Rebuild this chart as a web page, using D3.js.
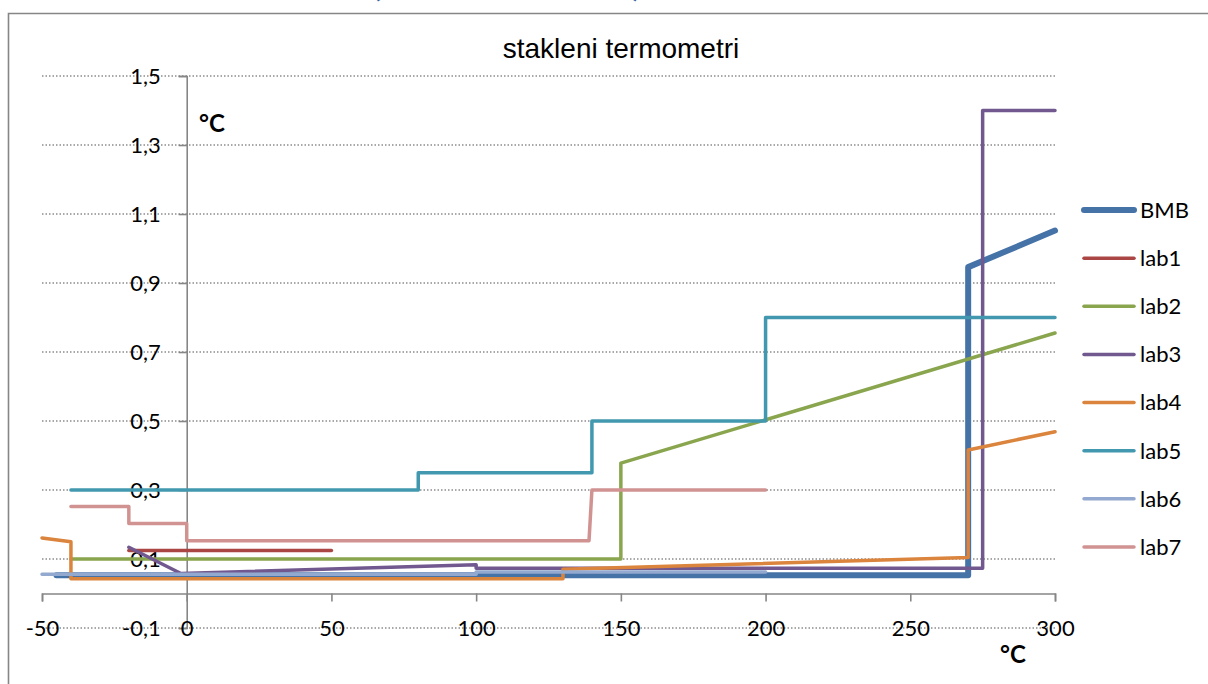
<!DOCTYPE html>
<html>
<head>
<meta charset="utf-8">
<script src="https://cdn.jsdelivr.net/npm/d3@7"></script>
<style>
  html, body { margin: 0; padding: 0; background: #fff; }
  svg { display: block; }
</style>
</head>
<body>
<svg id="chart" width="1208" height="684"></svg>
<script>
// ---- data ----
const chartTitle = "stakleni termometri";
const seriesNames = ["BMB", "lab1", "lab2", "lab3", "lab4", "lab5", "lab6", "lab7"];
const seriesColors = ["#4572A7", "#AA4643", "#89A54E", "#71588F", "#DB843D", "#4198AF", "#93A9CF", "#D19392"];

const BMB  = [[-45, 0.053], [270, 0.053], [270, 0.946], [300, 1.052]];
const lab1 = [[-20, 0.125], [50, 0.125]];
const lab2 = [[-40, 0.1], [150, 0.1], [150, 0.378], [300, 0.755]];
const lab3 = [[-20, 0.134], [-2, 0.058], [100, 0.083], [100, 0.073], [275, 0.073], [275, 1.4], [300, 1.4]];
const lab4 = [[-50, 0.161], [-40, 0.15], [-40, 0.043], [130, 0.043], [130, 0.07], [270, 0.104], [270, 0.416], [300, 0.469]];
const lab5 = [[-40, 0.3], [80, 0.3], [80, 0.35], [140, 0.35], [140, 0.5], [200, 0.5], [200, 0.8], [300, 0.8]];
const lab6 = [[-50, 0.0557], [100, 0.0557], [100, 0.062], [200, 0.062]];
const lab7 = [[-40, 0.252], [-20, 0.252], [-20, 0.203], [0, 0.203], [0, 0.153], [139, 0.153], [140, 0.3], [200, 0.3]];

const xTicks = [-50, 0, 50, 100, 150, 200, 250, 300];
const yTicks = [-0.1, 0.1, 0.3, 0.5, 0.7, 0.9, 1.1, 1.3, 1.5];
const unitLabel = "°C";

const seriesData = [BMB, lab1, lab2, lab3, lab4, lab5, lab6, lab7];

// ---- layout ----
const svg = d3.select("#chart");
const W = 1208, H = 684;
const plot = { left: 42, right: 1055, top: 76, bottom: 628 };
const x = d3.scaleLinear().domain([-50, 300]).range([plot.left, plot.right]);
const y = d3.scaleLinear().domain([-0.1, 1.5]).range([plot.bottom, plot.top]);
const fmt = v => d3.format(".1f")(v).replace(".", ",").replace("−", "-");
const labelFont = "Lato, 'Open Sans', sans-serif";

// outer frame (top + left visible)
svg.append("path")
  .attr("d", `M8.5,${H} L8.5,13.5 L${W},13.5`)
  .attr("fill", "none").attr("stroke", "#868686").attr("stroke-width", 1.6);

// cut-off heading above the frame (only the bottoms of its brackets show)
svg.append("text").attr("x", 372).attr("y", -4).text("(")
  .attr("font-family", labelFont).attr("font-weight", "bold").attr("font-size", 34).attr("fill", "#3B64A0");
svg.append("text").attr("x", 632).attr("y", -4).text(")")
  .attr("font-family", labelFont).attr("font-weight", "bold").attr("font-size", 34).attr("fill", "#3B64A0");

// title
svg.append("text")
  .attr("x", 621).attr("y", 58)
  .attr("text-anchor", "middle")
  .attr("font-family", "'Liberation Sans', Arial, sans-serif")
  .attr("font-size", 28)
  .attr("fill", "#000")
  .text(chartTitle);

// horizontal gridlines
svg.append("g").selectAll("line").data(yTicks).join("line")
  .attr("x1", plot.left).attr("x2", plot.right)
  .attr("y1", d => y(d)).attr("y2", d => y(d))
  .attr("stroke", "#8c8c8c").attr("stroke-width", 1.3)
  .attr("stroke-dasharray", "1.5,2");

// y axis at x = 0
const yAxis = d3.axisLeft(y).tickValues(yTicks).tickSize(8).tickPadding(18).tickFormat(fmt);
const gy = svg.append("g").attr("transform", `translate(${x(0)},0)`).call(yAxis);
gy.select(".domain").attr("stroke", "#868686").attr("stroke-width", 1.6);
gy.selectAll(".tick line").attr("stroke", "#868686").attr("stroke-width", 1.6);
gy.selectAll(".tick text").attr("font-family", labelFont).attr("font-size", 22).attr("fill", "#000");

// x axis at y = 0
const xAxis = d3.axisBottom(x).tickValues(xTicks).tickSize(8).tickPadding(0).tickFormat(d => d3.format("d")(d).replace("−", "-"));
const gx = svg.append("g").attr("transform", `translate(0,${y(0)})`).call(xAxis);
gx.select(".domain").attr("stroke", "#868686").attr("stroke-width", 1.6);
gx.selectAll(".tick line").attr("stroke", "#868686").attr("stroke-width", 1.6);
gx.selectAll(".tick text")
  .attr("font-family", labelFont).attr("font-size", 22).attr("fill", "#000")
  .attr("y", y(-0.1) - y(0)).attr("dy", "0.35em");

// series lines
const line = d3.line().x(d => x(d[0])).y(d => y(d[1]));
svg.append("g").selectAll("path").data(seriesData).join("path")
  .attr("d", line)
  .attr("fill", "none")
  .attr("stroke", (d, i) => seriesColors[i])
  .attr("stroke-width", (d, i) => i === 0 ? 6 : 3.5)
  .attr("stroke-linejoin", "round")
  .attr("stroke-linecap", "round");

// unit labels
svg.append("text").attr("x", 199).attr("y", 132).text(unitLabel)
  .attr("font-family", labelFont).attr("font-weight", "bold").attr("font-size", 24).attr("fill", "#000");
svg.append("text").attr("x", 1000).attr("y", 663).text(unitLabel)
  .attr("font-family", labelFont).attr("font-weight", "bold").attr("font-size", 24).attr("fill", "#000");

// legend
const leg = svg.append("g");
const legY = d3.scaleLinear().domain([0, seriesNames.length - 1]).range([210, 547]);
const items = leg.selectAll("g").data(seriesNames).join("g")
  .attr("transform", (d, i) => `translate(0,${legY(i)})`);
items.append("line")
  .attr("x1", 1084).attr("x2", 1134).attr("y1", 0).attr("y2", 0)
  .attr("stroke", (d, i) => seriesColors[i])
  .attr("stroke-width", (d, i) => i === 0 ? 6 : 3.5)
  .attr("stroke-linecap", "round");
items.append("text")
  .attr("x", 1140).attr("y", 0).attr("dy", "0.36em")
  .attr("font-family", labelFont).attr("font-size", 22).attr("fill", "#000")
  .text(d => d);
</script>
</body>
</html>
